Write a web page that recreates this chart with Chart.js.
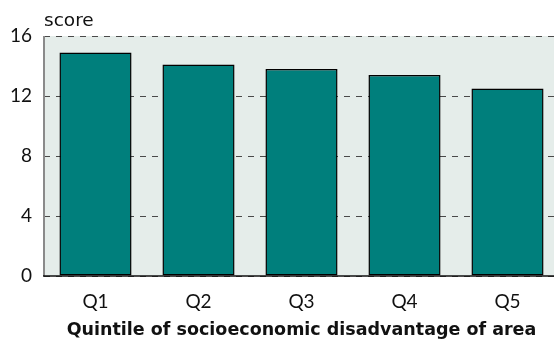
<!DOCTYPE html>
<html>
<head>
<meta charset="utf-8">
<script src="https://cdn.jsdelivr.net/npm/chart.js@4.4.1/dist/chart.umd.min.js"></script>
<style>
    body { margin: 0; overflow: hidden; background: #fff; }
    #wrap { width: 560px; height: 343px; position: relative; }
</style>
</head>
<body>
<div id="wrap"><canvas id="barChart"></canvas></div>
<script>
// Data
var quintileLabels = ['Q1', 'Q2', 'Q3', 'Q4', 'Q5'];
var scoreValues = [14.9, 14.1, 13.8, 13.4, 12.5];
var yTicks = [0, 4, 8, 12, 16];

var tickFont = { family: 'Lato', size: 19 };

// Light plot background, solid left axis and the "score" label above it
var plotBackground = {
    id: 'plotBackground',
    beforeDraw: function (chart) {
        var a = chart.chartArea;
        var ctx = chart.ctx;
        ctx.save();
        ctx.fillStyle = '#e5edea';
        ctx.fillRect(a.left, a.top, a.right - a.left, a.bottom - a.top);
        ctx.restore();
    },
    afterDraw: function (chart) {
        var a = chart.chartArea;
        var ctx = chart.ctx;
        ctx.save();
        ctx.strokeStyle = '#8a8a8a';
        ctx.lineWidth = 2;
        ctx.beginPath();
        ctx.moveTo(a.left, a.top);
        ctx.lineTo(a.left, a.bottom);
        ctx.stroke();
        ctx.strokeStyle = '#111';
        ctx.lineWidth = 1.5;
        ctx.beginPath();
        ctx.moveTo(a.left - 1, a.bottom);
        ctx.lineTo(a.right, a.bottom);
        ctx.stroke();
        ctx.fillStyle = '#111';
        ctx.font = '18.5px "DejaVu Sans"';
        ctx.textBaseline = 'alphabetic';
        ctx.fillText('score', a.left, 26);
        ctx.restore();
    }
};

var ctx = document.getElementById('barChart').getContext('2d');
new Chart(ctx, {
    type: 'bar',
    data: {
        labels: quintileLabels,
        datasets: [{
            data: scoreValues,
            backgroundColor: '#007f7c',
            borderColor: '#000',
            borderWidth: 1.5,
            borderSkipped: false,
            categoryPercentage: 0.7,
            barPercentage: 1.0
        }]
    },
    options: {
        responsive: true,
        maintainAspectRatio: false,
        animation: false,
        layout: { padding: { top: 36, right: 1, left: 0, bottom: 0 } },
        plugins: {
            legend: { display: false },
            tooltip: { enabled: false }
        },
        scales: {
            x: {
                grid: { display: false },
                border: { display: false },
                ticks: { font: tickFont, color: '#111', padding: 6 },
                title: {
                    display: true,
                    text: 'Quintile of socioeconomic disadvantage of area',
                    font: { family: 'DejaVu Sans', size: 17.5, weight: 'bold' },
                    color: '#111',
                    padding: { top: 2, bottom: 2 }
                },
                afterFit: function (scale) { scale.height = 67; }
            },
            y: {
                min: 0,
                max: 16,
                afterBuildTicks: function (scale) {
                    scale.ticks = yTicks.map(function (v) { return { value: v }; });
                },
                grid: { color: '#4a4a4a', lineWidth: 1, drawTicks: false },
                border: { display: false, dash: [6, 6] },
                ticks: { font: tickFont, color: '#111', padding: 12 },
                afterFit: function (scale) { scale.width = 44; }
            }
        }
    },
    plugins: [plotBackground]
});
</script>
</body>
</html>
